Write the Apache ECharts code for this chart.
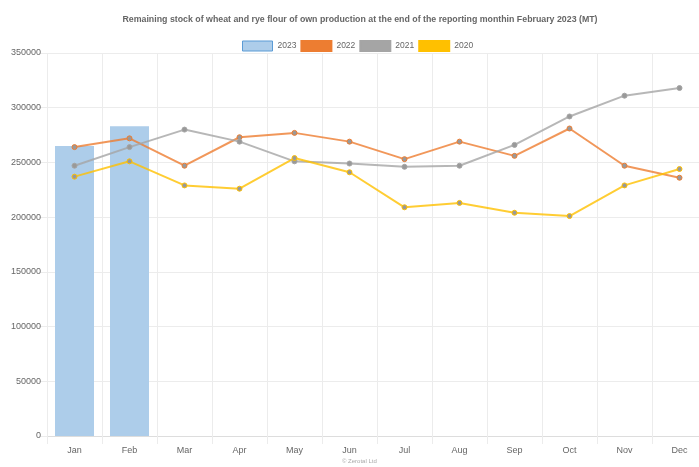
<!DOCTYPE html>
<html>
<head>
<meta charset="utf-8">
<script src="https://cdn.jsdelivr.net/npm/echarts@6/dist/echarts.min.js"></script>
<style>
html,body{margin:0;padding:0;overflow:hidden;background:#fff;width:699px;height:467px;}
#c{width:720px;height:467px;}
</style>
</head>
<body>
<div id="c"></div>
<script>
const months = ['Jan','Feb','Mar','Apr','May','Jun','Jul','Aug','Sep','Oct','Nov','Dec'];
const yTicks = [0, 50000, 100000, 150000, 200000, 250000, 300000, 350000];
const s2023 = [265000, 283000];
const s2022 = [264000, 272000, 247000, 273000, 277000, 269000, 253000, 269000, 256000, 281000, 247000, 236000];
const s2021 = [247000, 264000, 280000, 269000, 251000, 249000, 246000, 247000, 266000, 292000, 311000, 318000];
const s2020 = [237000, 251000, 229000, 226000, 254000, 241000, 209000, 213000, 204000, 201000, 229000, 244000];

const chart = echarts.init(document.getElementById('c'), null, {renderer:'canvas'});
const font = 'Arial, "Liberation Sans", sans-serif';
const gridColor = '#ececec';
function lineSeries(name, data, color){
  return {
    name, type:'line', data,
    symbol:'circle', symbolSize:5,
    lineStyle:{color, width:2, opacity:0.8},
    itemStyle:{color:'#999', borderColor:color, borderWidth:1},
    emphasis:{disabled:true}
  };
}
chart.setOption({
  animation:false,
  backgroundColor:'#fff',
  textStyle:{fontFamily:font},
  title:{
    text:'Remaining stock of wheat and rye flour of own production at the end of the reporting monthin February 2023 (MT)',
    left:355, top:10, textAlign:'center',
    textStyle:{fontSize:8.8, fontWeight:'bold', color:'#666', fontFamily:font}
  },
  graphic:[{type:'text', left:360-18, top:458, style:{text:'© Zerotal Ltd', fontSize:6, fill:'#aaa', fontFamily:font}}],
  legend:{
    top:35, left:237, itemWidth:30, itemHeight:10, itemGap:4,
    textStyle:{fontSize:8.5, color:'#666', fontFamily:font},
    data:[
      {name:'2023', icon:'rect', itemStyle:{color:'#adcdea', borderColor:'#5B9BD5', borderWidth:1}},
      {name:'2022', icon:'rect', itemStyle:{color:'#ED7D31', borderColor:'#ED7D31'}},
      {name:'2021', icon:'rect', itemStyle:{color:'#A5A5A5', borderColor:'#A5A5A5'}},
      {name:'2020', icon:'rect', itemStyle:{color:'#FFC000', borderColor:'#FFC000'}}
    ]
  },
  grid:{left:47, right:13, top:53, bottom:31, containLabel:false},
  xAxis:{
    type:'category', data:months, boundaryGap:true,
    axisLine:{show:true, lineStyle:{color:'#ddd'}},
    axisTick:{show:true, length:8, lineStyle:{color:gridColor}},
    splitLine:{show:true, lineStyle:{color:gridColor}},
    axisLabel:{fontSize:9, color:'#666', margin:10}
  },
  yAxis:{
    type:'value', min:0, max:350000, interval:50000,
    axisLine:{show:false},
    axisTick:{show:true, length:8, lineStyle:{color:gridColor}},
    splitLine:{show:true, lineStyle:{color:gridColor}},
    axisLabel:{fontSize:9, color:'#666', margin:6,
      formatter:v=> yTicks.includes(v) ? String(v) : ''}
  },
  series:[
    {name:'2023', type:'bar', data:s2023, barWidth:39,
     itemStyle:{color:'#adcdea'}, emphasis:{disabled:true}},
    lineSeries('2022', s2022, '#ED7D31'),
    lineSeries('2021', s2021, '#A5A5A5'),
    lineSeries('2020', s2020, '#FFC000')
  ]
});
</script>
</body>
</html>
